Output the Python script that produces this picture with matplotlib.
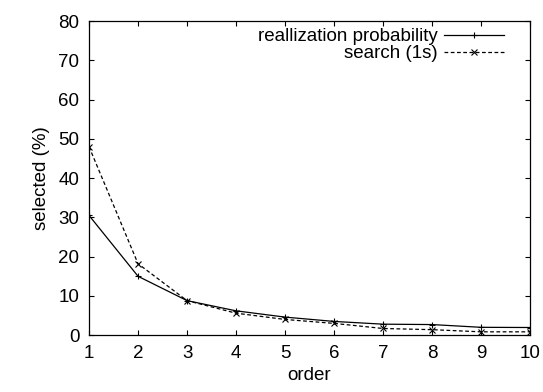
import matplotlib
matplotlib.use("Agg")
import matplotlib.pyplot as plt

plt.rcParams['font.family'] = ['Liberation Sans', 'DejaVu Sans']
plt.rcParams['font.size'] = 13.5

order = [1, 2, 3, 4, 5, 6, 7, 8, 9, 10]
realization = [30.5, 15.0, 8.8, 6.2, 4.6, 3.5, 2.8, 2.7, 2.0, 1.95]
search = [48.0, 18.2, 8.8, 5.6, 4.0, 3.0, 1.7, 1.4, 0.85, 0.85]

fig = plt.figure(figsize=(5.43, 3.92), dpi=100)
ax = fig.add_axes([0.164, 0.145, 0.812, 0.801])

ax.plot(order, realization, '-', color='black', lw=0.9, marker='+', ms=5, mew=0.8,
        label="reallization probability")
ax.plot(order, search, '--', color='black', lw=0.9, marker='x', ms=4, mew=0.8,
        dashes=(3, 2), label="search (1s)")

ax.set_xlim(1, 10)
ax.set_ylim(0, 80)
ax.set_xticks(order)
ax.set_yticks(range(0, 81, 10))
ax.tick_params(direction='in', top=True, right=True, length=3.5, width=0.8, pad=7)
for s in ax.spines.values():
    s.set_linewidth(0.9)
ax.set_xlabel("order", labelpad=4)
ax.set_ylabel("selected (%)", labelpad=6)

ax.legend(loc='upper right', bbox_to_anchor=(0.94, 0.978), markerfirst=False,
          frameon=False, handlelength=3.2, borderaxespad=0, borderpad=0,
          labelspacing=0.0, handletextpad=0.3)

fig.savefig("out.png", dpi=100)
